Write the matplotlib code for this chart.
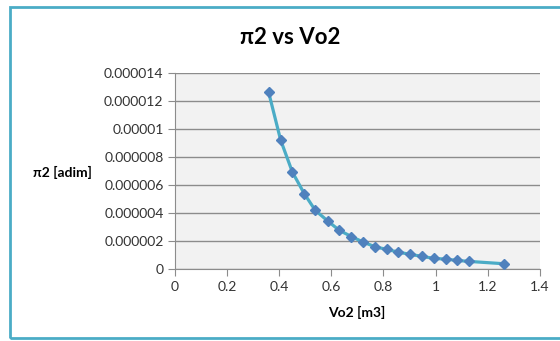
import matplotlib
matplotlib.use('Agg')
import matplotlib.pyplot as plt
from matplotlib.patches import Rectangle

# values
vo2 = [0.360, 0.406, 0.451, 0.497, 0.539, 0.587, 0.631, 0.677, 0.723, 0.768,
       0.813, 0.857, 0.902, 0.947, 0.994, 1.040, 1.081, 1.127, 1.263]
pi2 = [12.61e-6, 9.21e-6, 6.93e-6, 5.38e-6, 4.20e-6, 3.44e-6, 2.78e-6,
       2.34e-6, 1.94e-6, 1.61e-6, 1.42e-6, 1.23e-6, 1.07e-6, 0.93e-6,
       0.78e-6, 0.73e-6, 0.64e-6, 0.57e-6, 0.40e-6]

x_ticks = [0, 0.2, 0.4, 0.6, 0.8, 1.0, 1.2, 1.4]
x_labels = ['0', '0.2', '0.4', '0.6', '0.8', '1', '1.2', '1.4']
y_ticks = [0, 2e-6, 4e-6, 6e-6, 8e-6, 10e-6, 12e-6, 14e-6]
y_labels = ['0', '0.000002', '0.000004', '0.000006', '0.000008',
            '0.00001', '0.000012', '0.000014']

plt.rcParams['font.family'] = ['Lato', 'DejaVu Sans']

fig = plt.figure(figsize=(5.6, 3.41), dpi=100)
ax = fig.add_axes([0.312, 0.210, 0.652, 0.577])
ax.set_facecolor('#F2F2F2')

ax.plot(vo2, pi2, color='#4BACC6', lw=2.3, zorder=3)
ax.plot(vo2, pi2, linestyle='none', marker='D', markersize=5,
        color='#4F81BD', zorder=4)

ax.set_xlim(0, 1.4)
ax.set_ylim(0, 14e-6)
ax.set_xticks(x_ticks)
ax.set_xticklabels(x_labels)
ax.set_yticks(y_ticks)
ax.set_yticklabels(y_labels)
ax.yaxis.grid(True, color='#8C8C8C', lw=1)
ax.set_axisbelow(True)

for side in ['top', 'right']:
    ax.spines[side].set_visible(False)
for side in ['left', 'bottom']:
    ax.spines[side].set_color('#8C8C8C')
ax.tick_params(axis='both', direction='out', length=5, color='#8C8C8C',
               labelsize=10, labelcolor='#333333', pad=3)

fig.text(0.518, 1 - 38 / 341, 'π2 vs Vo2', ha='center', va='center',
         fontsize=16, fontweight='bold')
fig.text(357 / 560, 1 - 312 / 341, 'Vo2 [m3]', ha='center', va='center',
         fontsize=10, fontweight='bold')
fig.text(62 / 560, 1 - 172 / 341, 'π2 [adim]', ha='center', va='center',
         fontsize=10, fontweight='bold')

fig.patches.append(Rectangle((10 / 560, 3 / 341), 1.0, 331 / 341,
                             transform=fig.transFigure, fill=False,
                             edgecolor='#4BACC6', lw=2))

fig.savefig('out.png', dpi=100)
